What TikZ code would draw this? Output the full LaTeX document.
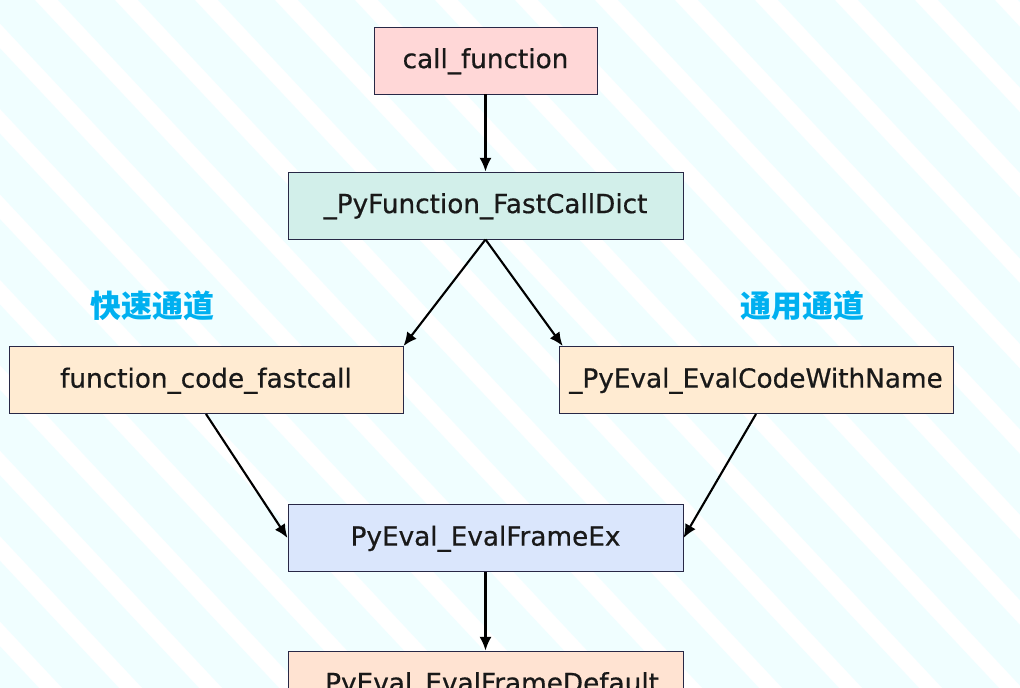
\documentclass[tikz,border=0pt]{standalone}
\usepackage{fontspec}
\setmainfont{DejaVu Sans}
\newfontfamily\fnfont{DejaVu Sans}[FakeBold=0.6]
\newfontfamily\cjk{Noto Sans CJK SC}
\usepackage{xcolor}
\usetikzlibrary{arrows.meta}

\definecolor{stripecyan}{RGB}{240,254,255}
\definecolor{boxline}{RGB}{40,40,70}
\definecolor{pinkfill}{RGB}{255,215,215}
\definecolor{tealfill}{RGB}{210,239,234}
\definecolor{peachfill}{RGB}{255,235,210}
\definecolor{bluefill}{RGB}{218,230,252}
\definecolor{salmonfill}{RGB}{255,227,210}
\definecolor{pathblue}{RGB}{0,176,240}

\begin{document}
\begin{tikzpicture}[
		fnbox/.style={draw=boxline, line width=0.7pt, minimum height=1.675cm, inner sep=0pt, text height=0.5cm, text depth=0.12cm, text=black!90, font=\fnfont\fontsize{18.7}{22}\selectfont},
		pathlabel/.style={text=pathblue, font=\cjk\bfseries\fontsize{22}{24}\selectfont},
		callarrow/.style={line width=1.5pt, -{Latex[length=3.4mm,width=3mm]}}
	]
				\useasboundingbox (0,0) rectangle (25.5,-17.175);
				\clip (0,0) rectangle (25.5,-17.175);
				\fill[white] (0,0) rectangle (25.5,-17.175);
				\foreach \x in {-16.55,-14.55,...,25.45}
					\fill[stripecyan] (\x,0) -- ++(1.42,0) -- ++(16.2,-17.3) -- ++(-1.42,0) -- cycle;
				\node[fnbox, fill=pinkfill, minimum width=5.575cm] (callfn) at (12.1375,-1.5125) {call\_function};
				\node[fnbox, fill=tealfill, minimum width=9.875cm] (fastdict) at (12.1375,-5.1375) {\_PyFunction\_FastCallDict};
				\node[fnbox, fill=peachfill, minimum width=9.85cm] (fastcall) at (5.15,-9.5) {function\_code\_fastcall};
				\node[fnbox, fill=peachfill, minimum width=9.85cm] (evalcode) at (18.9,-9.5) {\_PyEval\_EvalCodeWithName};
				\node[fnbox, fill=bluefill, minimum width=9.875cm] (frameex) at (12.1375,-13.45) {PyEval\_EvalFrameEx};
				\node[fnbox, fill=salmonfill, minimum width=9.875cm] (framedef) at (12.1375,-17.1125) {\_PyEval\_EvalFrameDefault};
				\node[pathlabel] (fastlbl) at (3.82,-7.65) {快速通道};
				\node[pathlabel] (genlbl) at (20.06,-7.65) {通用通道};
				\draw[callarrow] (callfn) -- (fastdict);
				\draw[callarrow] (fastdict.south) -- (fastcall.north east);
				\draw[callarrow] (fastdict.south) -- ([xshift=3pt]evalcode.north west);
				\draw[callarrow] (fastcall.south) -- (frameex.west);
				\draw[callarrow] (evalcode.south) -- (frameex.east);
				\draw[callarrow] (frameex) -- (framedef);
				\end{tikzpicture}
\end{document}
